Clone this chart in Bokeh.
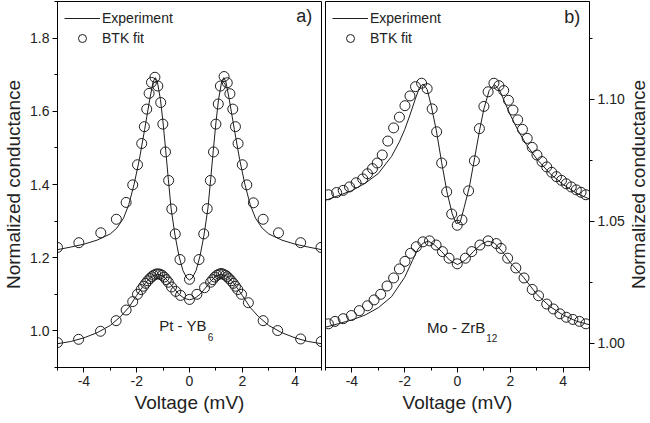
import math
from bokeh.plotting import figure
from bokeh.layouts import row
from bokeh.core.properties import value
from bokeh.models import (FixedTicker, PrintfTickFormatter, Legend, LegendItem,
                          Label, Range1d)
from bokeh.embed import file_html
from bokeh.resources import INLINE

# ---------------- data ----------------
X_TICKS = [-4, -2, 0, 2, 4]
X_MINOR = [-5, -3, -1, 1, 3, 5]
A_Y_TICKS = [1.0, 1.2, 1.4, 1.6, 1.8]
A_Y_MINOR = [0.9, 1.1, 1.3, 1.5, 1.7, 1.9]
B_Y_TICKS = [1.00, 1.05, 1.10]
B_Y_MINOR = [1.025, 1.075, 1.125]

# Panel a) upper curve - experiment (line)
a_hi_line_v = [-5.0, -4.5, -4.0, -3.5, -3.0, -2.75, -2.5, -2.3, -2.1, -1.9, -1.7, -1.5,
               -1.38, -1.3, -1.22, -1.1, -1.0, -0.9, -0.8, -0.7, -0.55, -0.4, -0.25, -0.1,
               0.0, 0.1, 0.25, 0.4, 0.55, 0.7, 0.8, 0.9, 1.0, 1.1, 1.22, 1.3, 1.38, 1.5,
               1.7, 1.9, 2.1, 2.3, 2.5, 2.75, 3.0, 3.5, 4.0, 4.5, 5.0]
a_hi_line_g = [1.222, 1.229, 1.237, 1.248, 1.265, 1.281, 1.308, 1.345, 1.400, 1.468, 1.550, 1.635,
               1.680, 1.692, 1.682, 1.632, 1.568, 1.492, 1.413, 1.336, 1.262, 1.205, 1.165, 1.144,
               1.139, 1.144, 1.165, 1.205, 1.262, 1.336, 1.413, 1.492, 1.568, 1.632, 1.682, 1.692, 1.680, 1.635,
               1.550, 1.468, 1.400, 1.345, 1.308, 1.281, 1.265, 1.248, 1.237, 1.229, 1.222]
# Panel a) upper curve - BTK fit (circles)
a_hi_fit_v = [-5.0, -4.19, -3.36, -2.77, -2.40, -2.15, -1.97, -1.81, -1.71, -1.62, -1.53, -1.44,
              -1.31, -1.20, -1.09, -1.01, -0.91, -0.79, -0.67, -0.54, -0.36, 0.0,
              0.36, 0.54, 0.67, 0.79, 0.91, 1.0, 1.09, 1.17, 1.31, 1.43, 1.53, 1.64, 1.74,
              1.84, 2.0, 2.17, 2.42, 2.79, 3.37, 4.21, 4.98]
a_hi_fit_g = [1.228, 1.241, 1.268, 1.305, 1.351, 1.399, 1.454, 1.512, 1.558, 1.606, 1.649, 1.679,
              1.693, 1.669, 1.624, 1.565, 1.489, 1.411, 1.333, 1.265, 1.195, 1.141,
              1.195, 1.265, 1.334, 1.411, 1.489, 1.565, 1.620, 1.669, 1.695, 1.678, 1.648, 1.606, 1.558,
              1.512, 1.454, 1.399, 1.350, 1.305, 1.268, 1.241, 1.228]

# Panel a) lower curve
a_lo_line_v = [-5.0, -4.5, -4.0, -3.5, -3.0, -2.6, -2.3, -2.0, -1.8, -1.6, -1.4, -1.2, -1.0, -0.8,
               -0.6, -0.4, -0.2, 0.0, 0.2, 0.4, 0.6, 0.8, 1.0, 1.2, 1.4, 1.6, 1.8, 2.0, 2.3, 2.6,
               3.0, 3.5, 4.0, 4.5, 5.0]
a_lo_line_g = [0.965, 0.971, 0.981, 0.995, 1.015, 1.040, 1.064, 1.097, 1.118, 1.137, 1.150, 1.155,
               1.150, 1.135, 1.117, 1.100, 1.089, 1.085, 1.089, 1.100, 1.117, 1.135, 1.150, 1.155,
               1.150, 1.137, 1.118, 1.097, 1.064, 1.040, 1.015, 0.995, 0.981, 0.971, 0.965]
a_lo_fit_v = [-5.0, -4.2, -3.37, -2.78, -2.4, -2.15, -1.97, -1.83, -1.74, -1.66, -1.58, -1.50,
              -1.43, -1.36, -1.28, -1.20, -1.12, -1.04, -0.96, -0.88, -0.80, -0.68, -0.52, -0.34,
              0.0, 0.28, 0.57, 0.80, 0.88, 0.96, 1.04, 1.12, 1.20, 1.28, 1.36, 1.43, 1.50, 1.58,
              1.66, 1.74, 1.83, 1.97, 2.23, 2.79, 3.34, 4.21, 4.99]
a_lo_fit_g = [0.968, 0.977, 0.999, 1.028, 1.057, 1.080, 1.100, 1.113, 1.122, 1.130, 1.137, 1.143,
              1.148, 1.152, 1.155, 1.156, 1.155, 1.152, 1.147, 1.140, 1.133, 1.120, 1.108, 1.097,
              1.086, 1.100, 1.118, 1.133, 1.140, 1.147, 1.152, 1.155, 1.157, 1.155, 1.152, 1.148, 1.143, 1.137,
              1.130, 1.122, 1.113, 1.100, 1.077, 1.028, 1.001, 0.978, 0.971]

# Panel b) upper curve
b_hi_line_v = [-5.0, -4.5, -4.0, -3.5, -3.0, -2.5, -2.2, -2.0, -1.8, -1.6, -1.45, -1.3, -1.15,
               -1.0, -0.8, -0.6, -0.4, -0.2, -0.05, 0.1, 0.25, 0.45, 0.65, 0.85, 1.0, 1.2, 1.4,
               1.6, 1.8, 2.0, 2.3, 2.6, 3.0, 3.5, 4.0, 4.5, 5.0]
b_hi_line_g = [1.0585, 1.0605, 1.0625, 1.0655, 1.0695, 1.0765, 1.0825, 1.0875, 1.0935, 1.1000,
               1.1045, 1.1062, 1.1040, 1.0975, 1.0870, 1.0740, 1.0620, 1.0530, 1.0490, 1.0495,
               1.0555, 1.0640, 1.0760, 1.0880, 1.0960, 1.1035, 1.1060, 1.1035, 1.0985, 1.0935,
               1.0870, 1.0815, 1.0755, 1.0695, 1.0650, 1.0615, 1.0590]
b_hi_fit_v = [-4.89, -4.58, -4.33, -4.09, -3.84, -3.59, -3.41, -3.22, -3.04, -2.85, -2.64, -2.42,
              -2.20, -1.99, -1.80, -1.59, -1.36, -1.15, -0.96, -0.79, -0.60, -0.41, -0.22, -0.01,
              0.17, 0.42, 0.64, 0.83, 1.0, 1.16, 1.38, 1.57, 1.75, 1.93, 2.10, 2.28, 2.46, 2.64,
              2.83, 3.01, 3.20, 3.38, 3.57, 3.75, 3.94, 4.12, 4.31, 4.50, 4.68, 4.86]
b_hi_fit_g = [1.0608, 1.0617, 1.0626, 1.0640, 1.0657, 1.0673, 1.0694, 1.0715, 1.0738, 1.0771,
              1.0828, 1.0882, 1.0926, 1.0973, 1.1013, 1.1051, 1.1065, 1.1043, 1.0960, 1.0866,
              1.0738, 1.0620, 1.0529, 1.0483, 1.0505, 1.0624, 1.0747, 1.0879, 1.0970, 1.1030,
              1.1065, 1.1055, 1.1035, 1.0995, 1.0955, 1.0915, 1.0876, 1.0839, 1.0802, 1.0771,
              1.0744, 1.0722, 1.0700, 1.0682, 1.0667, 1.0653, 1.0640, 1.0628, 1.0618, 1.0608]

# Panel b) lower curve
b_lo_line_v = [-5.0, -4.5, -4.0, -3.5, -3.0, -2.5, -2.0, -1.7, -1.5, -1.3, -1.1, -0.9, -0.6,
               -0.3, 0.0, 0.3, 0.6, 0.9, 1.15, 1.4, 1.7, 2.0, 2.5, 3.0, 3.5, 4.0, 4.5, 5.0]
b_lo_line_g = [1.0065, 1.0080, 1.0095, 1.0115, 1.0145, 1.0190, 1.0270, 1.0340, 1.0385, 1.0410,
               1.0418, 1.0405, 1.0375, 1.0340, 1.0322, 1.0340, 1.0375, 1.0405, 1.0418, 1.0410,
               1.0375, 1.0330, 1.0270, 1.0200, 1.0150, 1.0115, 1.0090, 1.0075]
b_lo_fit_v = [-4.89, -4.64, -4.33, -4.02, -3.72, -3.41, -3.16, -2.91, -2.67, -2.42, -2.20, -1.99,
              -1.78, -1.56, -1.31, -1.06, -0.81, -0.57, -0.32, -0.01, 0.30, 0.54, 0.85, 1.16,
              1.47, 1.65, 1.90, 2.21, 2.52, 2.83, 3.07, 3.38, 3.63, 3.88, 4.12, 4.37, 4.62, 4.86]
b_lo_fit_g = [1.0079, 1.0089, 1.0100, 1.0113, 1.0133, 1.0153, 1.0177, 1.0200, 1.0234, 1.0267,
              1.0304, 1.0335, 1.0368, 1.0395, 1.0415, 1.0419, 1.0402, 1.0375, 1.0348, 1.0325,
              1.0348, 1.0375, 1.0402, 1.0419, 1.0408, 1.0388, 1.0348, 1.0308, 1.0267, 1.0220,
              1.0194, 1.0160, 1.0140, 1.0120, 1.0106, 1.0097, 1.0089, 1.0079]

Y_TITLE = "Normalized conductance"
X_TITLE = "Voltage (mV)"

# ---------------- styling ----------------
FONT = "Liberation Sans"
INK = "#1e1e1e"
TXT = "#222222"
FRAME_W = 264
FRAME_H = 366


def style_axis(ax, ticks, minor, fmt):
    ax.ticker = FixedTicker(ticks=ticks, minor_ticks=minor)
    ax.formatter = PrintfTickFormatter(format=fmt)
    ax.major_tick_out = 5
    ax.major_tick_in = 0
    ax.minor_tick_out = 3
    ax.minor_tick_in = 0
    ax.axis_line_color = "black"
    ax.major_tick_line_color = "black"
    ax.minor_tick_line_color = "black"
    ax.major_label_text_font = FONT
    ax.major_label_text_font_size = "14px"
    ax.major_label_text_color = TXT
    ax.major_label_standoff = 3
    ax.axis_label_text_font = FONT
    ax.axis_label_text_font_size = "19px"
    ax.axis_label_text_font_style = "normal"
    ax.axis_label_text_color = TXT
    ax.axis_label_standoff = 3


def make_panel(y_lo, y_hi, side, y_ticks, y_minor, y_fmt,
               hi_lv, hi_lg, hi_fv, hi_fg, lo_lv, lo_lg, lo_fv, lo_fg,
               tag, tag_y, mat, sub, mat_y, sub_y, mat_x):
    p = figure(frame_width=FRAME_W, frame_height=FRAME_H,
               x_range=Range1d(-5, 5), y_range=Range1d(y_lo, y_hi),
               y_axis_location=side, output_backend="svg", toolbar_location=None,
               min_border_top=1, min_border_bottom=0,
               min_border_left=(0 if side == "left" else 2),
               min_border_right=(2 if side == "left" else 0))
    p.grid.visible = False
    p.outline_line_color = "black"
    p.outline_line_width = 1
    p.background_fill_color = "white"
    p.border_fill_color = "white"
    style_axis(p.xaxis[0], X_TICKS, X_MINOR, "%d")
    style_axis(p.yaxis[0], y_ticks, y_minor, y_fmt)
    p.xaxis.axis_label = X_TITLE
    if side == "left":
        p.yaxis.axis_label = Y_TITLE

    l1 = p.line(hi_lv, hi_lg, line_color=INK, line_width=1)
    p.line(lo_lv, lo_lg, line_color=INK, line_width=1)
    c1 = p.scatter(hi_fv, hi_fg, marker="circle", size=10, fill_color=None,
                   line_color=INK, line_width=1)
    p.scatter(lo_fv, lo_fg, marker="circle", size=10, fill_color=None,
              line_color=INK, line_width=1)

    leg = Legend(items=[LegendItem(label="Experiment", renderers=[l1]),
                        LegendItem(label="BTK fit", renderers=[c1])],
                 location="top_left", margin=0, padding=7, spacing=0,
                 glyph_width=36, glyph_height=20, label_height=20,
                 label_standoff=2, label_text_font=FONT,
                 label_text_font_size="14px", label_text_color=TXT,
                 border_line_alpha=0, background_fill_alpha=0)
    p.add_layout(leg)

    p.add_layout(Label(x=4.35, y=tag_y, text=tag, text_align="center",
                       text_baseline="middle", text_font=FONT,
                       text_font_size="18px", text_color=TXT))
    p.add_layout(Label(x=mat_x, y=mat_y, text=mat, text_align="right",
                       text_baseline="middle", text_font=FONT,
                       text_font_size="15px", text_color=TXT))
    p.add_layout(Label(x=mat_x + 0.04, y=sub_y, text=sub, text_align="left",
                       text_baseline="middle", text_font=FONT,
                       text_font_size="10px", text_color=TXT))
    return p


pa = make_panel(0.9, 1.9, "left", A_Y_TICKS, A_Y_MINOR, "%.1f",
                a_hi_line_v, a_hi_line_g, a_hi_fit_v, a_hi_fit_g,
                a_lo_line_v, a_lo_line_g, a_lo_fit_v, a_lo_fit_g,
                "a)", 1.86, "Pt - YB", "6", 1.0135, 0.984, 0.65)
pb = make_panel(0.99, 1.14, "right", B_Y_TICKS, B_Y_MINOR, "%.2f",
                b_hi_line_v, b_hi_line_g, b_hi_fit_v, b_hi_fit_g,
                b_lo_line_v, b_lo_line_g, b_lo_fit_v, b_lo_fit_g,
                "b)", 1.1335, "Mo - ZrB", "12", 1.0063, 1.0021, 1.05)

# narrow strip carrying the right-hand axis title (reads bottom-to-top)
pt = figure(frame_width=22, frame_height=FRAME_H, x_range=Range1d(0, 1),
            y_range=Range1d(0, 1), x_axis_location=None, y_axis_location=None,
            output_backend="svg", toolbar_location=None,
            min_border_top=1, min_border_bottom=0, min_border_left=0,
            min_border_right=0)
pt.outline_line_color = None
pt.xgrid.visible = False
pt.ygrid.visible = False
for r in pt.renderers:
    pass
for g in pt.center:
    g.visible = False
pt.text(x=[0.5], y=[0.5], text=[Y_TITLE], angle=math.pi / 2,
        text_align="center", text_baseline="middle", text_font=value(FONT),
        text_font_size="19px", text_color=TXT)

layout = row(pa, pb, pt)
open("out.html", "w").write(file_html(layout, INLINE))
